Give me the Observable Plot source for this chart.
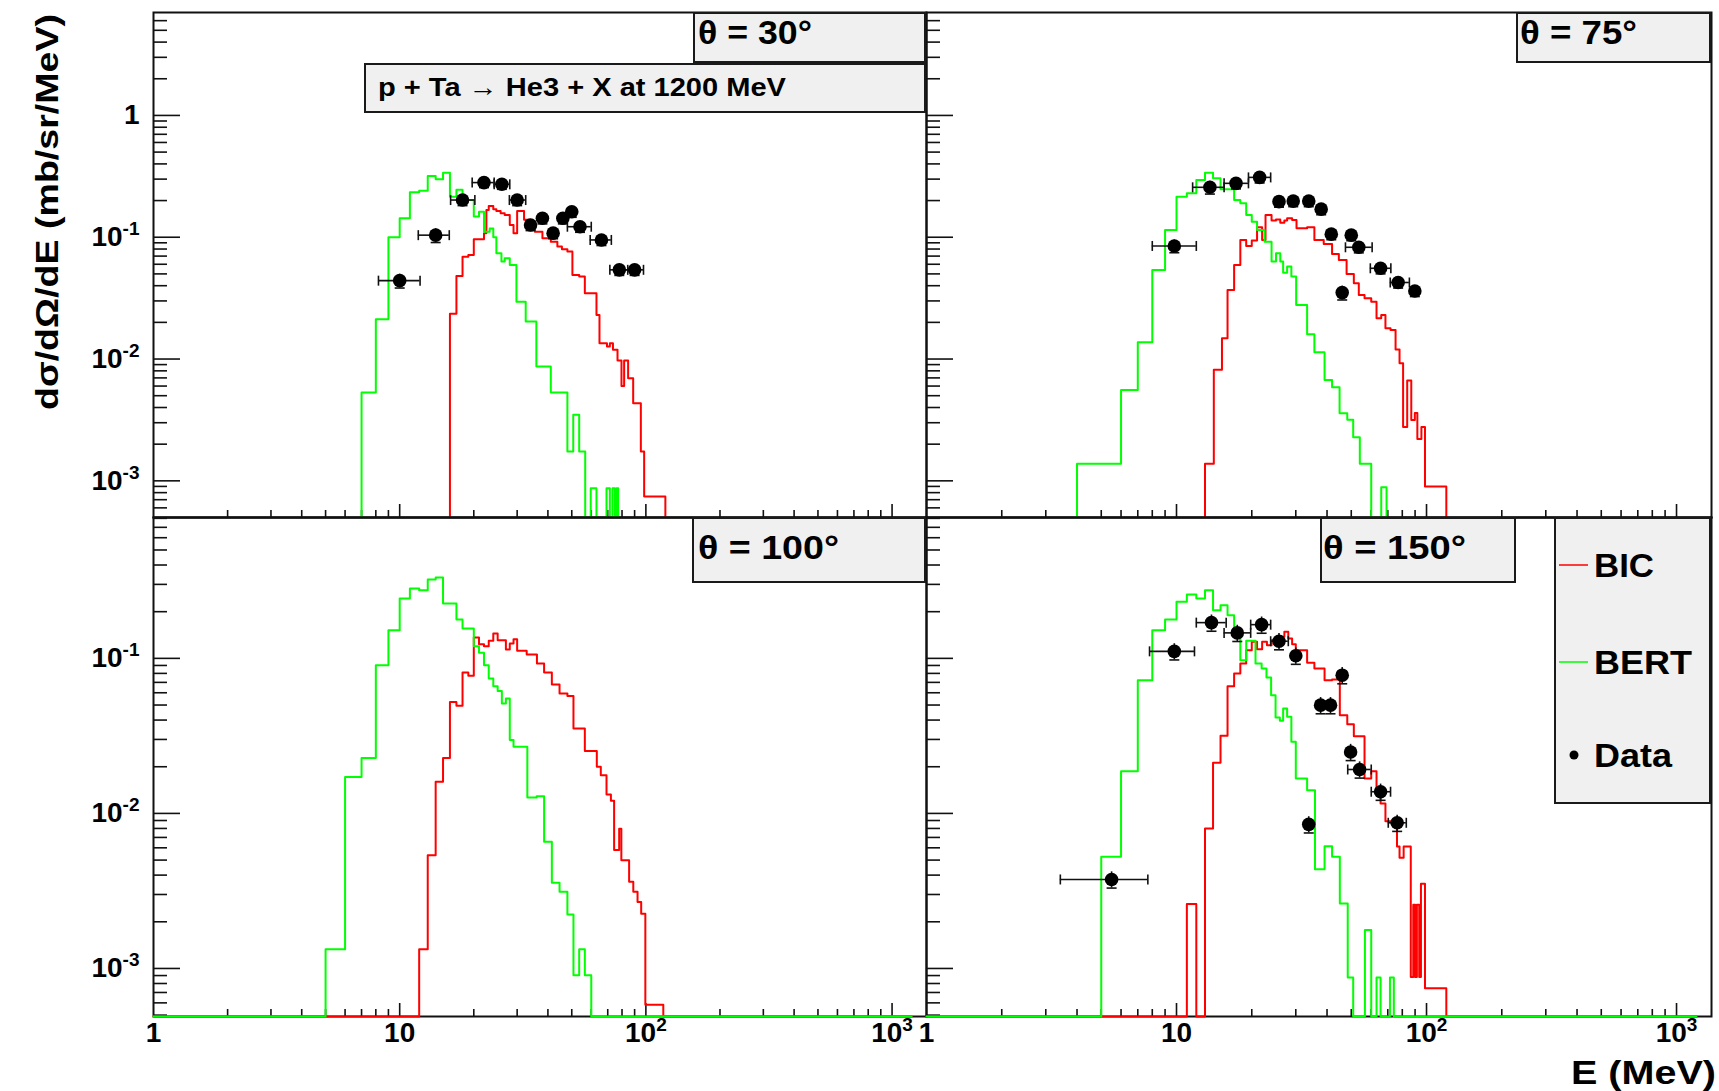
<!DOCTYPE html>
<html>
<head>
<meta charset="utf-8">
<script src="https://cdn.jsdelivr.net/npm/d3@7"></script>
<script src="https://cdn.jsdelivr.net/npm/@observablehq/plot@0.6"></script>
<style>
  html, body { margin: 0; padding: 0; background: #ffffff; }
  #chart { position: relative; width: 1719px; height: 1091px; overflow: hidden; background: #ffffff; }
  .box { position: absolute; box-sizing: border-box; background: #f0f0f0; border: 2px solid #1a1a1a; }
</style>
</head>
<body>
<div id="chart"></div>
<script>
// ================= DATA =================
// axis ranges
const xDomain = [1, 1380];
const histRange = [1, 1200];
const yDomainTop = [5e-4, 7];
const yDomainBottom = [4.9e-4, 0.81];

// tick values and labels
const xMajorTicks = [1, 10, 100, 1000];
const xMinorTicks = [2,3,4,5,6,7,8,9,20,30,40,50,60,70,80,90,200,300,400,500,600,700,800,900];
const xTickLabels = ["1", "10", "10^2", "10^3"];
const yMajorTicks = [0.001, 0.01, 0.1, 1];
const yMinorMantissas = [2,3,4,5,6,7,8,9];
const yMinorDecades = [1e-4, 1e-3, 1e-2, 1e-1, 1];
const yTickLabelsTop = ["10^-3", "10^-2", "10^-1", "1"];
const yTickLabelsBottom = ["10^-3", "10^-2", "10^-1"];

// ---- theta = 30 deg ----
const bic30Edges = [16,17,18,19,20,22,22.5,23,24,24.7,25.7,26.7,28,29,30,32,34,35.4,38,41.1,43.7,45.6,48,50.3,53.6,56.5,63,64.8,69.5,71.4,73.5,76.7,79.6,81.6,84.7,88.8,95.4,98.4,120];
const bic30Values = [0.0235,0.0481,0.0693,0.0716,0.0962,0.108,0.167,0.1805,0.1696,0.1643,0.1572,0.1524,0.126,0.1077,0.1643,0.139,0.121,0.111,0.098,0.092,0.0838,0.0796,0.0762,0.049,0.0475,0.0347,0.0230,0.0135,0.0127,0.0135,0.0119,0.00971,0.00602,0.00971,0.00696,0.00434,0.00174,0.000745];
const bert30Edges = [7,8,9,10,11,12,13,14,15,16,17,18,20,21,22,23.2,24,24.7,25.9,26.7,28,29.8,32.5,35.9,41.1,48,50.7,53.6,56.7,59.7,63,69.2,71.4,73.2,74.8,76,77.2];
const bert30Values = [0.0053,0.0212,0.100,0.143,0.234,0.241,0.318,0.299,0.339,0.215,0.245,0.202,0.148,0.162,0.111,0.118,0.0999,0.0738,0.0631,0.0672,0.0592,0.0296,0.0203,0.00868,0.00531,0.00174,0.00348,0.00174,0,0.00087,0,0.00087,0,0.00087,0,0.00087];
const data30E = [10,14,18,22,26,30,34,38,42,46,50,54,66,78,90];
const data30V = [0.044,0.104,0.202,0.281,0.272,0.202,0.126,0.143,0.108,0.143,0.162,0.122,0.095,0.054,0.054];
const data30ELo = [8.2,11.9,16.1,19.7,24.2,27.9,33,37,41,45,49,48,59.4,71.4,81];
const data30EHi = [12.1,15.9,20.2,24.2,28,32.5,35,39,43,47,51,60,72.4,84.4,97.8];
const data30Err = [0.13,0.13,0.1,0.09,0.09,0.1,0.1,0.1,0.1,0.1,0.1,0.1,0.1,0.1,0.1];

// ---- theta = 75 deg ----
const bic75Edges = [13,14.1,15.2,16,17,18,19,20,21,22,22.7,24,25,26,27,27.7,29,30.2,33.3,35.6,38.8,41.9,44.6,47.9,51.2,53.6,56.5,60.1,63.1,65.9,68.5,71.8,75.2,78,80.6,83.7,86.9,89.8,91.9,95.4,98.6,120];
const bic75Values = [0.00138,0.00815,0.01482,0.0369,0.0592,0.095,0.0848,0.0938,0.1207,0.095,0.1524,0.1369,0.14,0.1318,0.1369,0.143,0.1386,0.1184,0.1207,0.095,0.0881,0.0729,0.0651,0.05,0.0419,0.0336,0.0316,0.0296,0.0216,0.023,0.0179,0.0173,0.012,0.00924,0.00277,0.00667,0.00316,0.0036,0.00221,0.00277,0.0009];
const bert75Edges = [4,6,7,8,9,10,11,12,13,14,15,17,18,19,20,21,22.5,24,25,26,26.7,27.7,28.8,30.1,33.3,35.6,39.1,41.9,44.9,48.2,50.9,54.1,60.1,65.9,69.2];
const bert75Values = [0.00138,0.00558,0.01374,0.0539,0.1147,0.2154,0.2294,0.2951,0.3389,0.3045,0.2474,0.2022,0.19,0.1524,0.1343,0.1147,0.092,0.0631,0.0738,0.0631,0.0512,0.0574,0.0475,0.0278,0.016,0.01137,0.00674,0.00587,0.00359,0.00317,0.00228,0.00138,0,0.000887];
const data75E = [9.8,13.6,17.3,21.5,25.7,29.3,33.8,37.9,41.6,46,50,53.6,65.5,77,89.8];
const data75V = [0.0848,0.257,0.277,0.31,0.196,0.198,0.198,0.17,0.106,0.0351,0.104,0.0827,0.0556,0.0425,0.0362];
const data75ELo = [8,11.6,15.5,19.4,24.7,28.3,32.8,36.9,40.6,45,49,47.4,59.6,71.6,88.5];
const data75EHi = [12,15.5,19.4,23.8,26.7,30.3,34.8,38.9,42.6,47,51,60.6,72,85.4,91];
const data75Err = [0.12,0.12,0.1,0.1,0.1,0.1,0.1,0.1,0.1,0.13,0.1,0.1,0.1,0.1,0.1];

// ---- theta = 100 deg ----
const bic100Edges = [12,13,14,15,16,17,18,19,20,21,22,23,24,25,27,28,29,30,32.8,36.1,38.6,41.5,44.6,48,50.8,56.5,63.2,65.6,69.2,72.1,74.3,77.9,79.5,85.5,88.9,92.5,95.7,99.5,117.7];
const bic100Values = [0.00133,0.00538,0.016,0.0228,0.0524,0.0494,0.0811,0.0772,0.1363,0.1235,0.1199,0.1297,0.1447,0.131,0.1141,0.1247,0.133,0.1118,0.1059,0.0927,0.0811,0.0679,0.0594,0.0571,0.0353,0.0253,0.02,0.01765,0.01324,0.01206,0.0058,0.00796,0.00498,0.00362,0.00313,0.00268,0.00225,0.000583];
const bert100Edges = [5,6,7,8,9,10,11,12,13,14,15,17,18,20,21,22,23,24,25,26,27,28,29,33,36,38.6,41.5,44.6,48,50.8,53.6,56.5,60];
const bert100Values = [0.00133,0.0172,0.0228,0.0904,0.152,0.2433,0.2823,0.2754,0.3227,0.3324,0.226,0.1781,0.1558,0.1199,0.1086,0.0904,0.0742,0.0662,0.0617,0.0512,0.0551,0.0297,0.0269,0.01267,0.01292,0.00656,0.00357,0.00312,0.00223,0.000905,0.00133,0.000905];

// ---- theta = 150 deg ----
const bic150Edges = [11,12,13,14,15,16,17,18,19,20,21,22,23,24,25,26,27,28,29,30,33.3,35.6,39.1,41.9,45,48.2,51.2,56.5,60.1,63.1,65.5,68.5,71.8,76.2,78,81,86.5,88.5,90,91.5,93.5,95,98.6,120];
const bic150Values = [0.0026,0,0.008,0.0212,0.0317,0.0662,0.0799,0.0927,0.113,0.1278,0.1146,0.1278,0.1216,0.131,0.131,0.1377,0.1483,0.1343,0.1235,0.113,0.0936,0.086,0.0723,0.0731,0.043,0.0376,0.0315,0.0168,0.0187,0.014,0.0116,0.00889,0.00889,0.00611,0.00518,0.00611,0.00088,0.00258,0.00088,0.00258,0.00088,0.00352,0.000746];
const bert150Edges = [5,6,7,8,9,10,11,12,13,14,15,16,17,18,19,20.7,21.9,22.9,23.9,24.9,25.9,26.7,27.7,28.8,30,33.3,35.8,39.1,41.9,45,48.4,50.9,56.7,60.1,63.1,65.5,71.4,74];
const bert150Values = [0.00525,0.0187,0.0723,0.152,0.178,0.2315,0.2581,0.2433,0.2754,0.2046,0.2203,0.19,0.1447,0.0974,0.1297,0.0927,0.086,0.0753,0.0579,0.0416,0.0396,0.0475,0.042,0.029,0.0168,0.01413,0.00437,0.00615,0.00525,0.00262,0.000874,0,0.00177,0,0.000874,0,0.000874];
const data150E = [5.5,9.8,13.8,17.5,21.9,25.7,30,33.8,37.7,41.3,46,49.7,54,65.5,76.3];
const data150V = [0.00375,0.111,0.170,0.146,0.165,0.129,0.104,0.0085,0.0499,0.0499,0.0779,0.0249,0.0192,0.0138,0.0087];
const data150ELo = [3.43,7.8,12,15.5,19.8,23.8,29,33,36.7,40.3,45,48.7,48.4,60.1,70.3];
const data150EHi = [7.68,11.8,15.8,19.8,23.8,28,31,34.6,38.7,42.3,47,50.7,60.1,71.8,83];
const data150Err = [0.12,0.12,0.12,0.12,0.12,0.12,0.12,0.12,0.12,0.12,0.12,0.12,0.12,0.12,0.12];

// text
const panelTitles = ["θ = 30°", "θ = 75°", "θ = 100°", "θ = 150°"];
const reactionText = "p + Ta → He3 + X at 1200 MeV";
const legendLabels = ["BIC", "BERT", "Data"];
const colorBIC = "#ff0000";
const colorBERT = "#00ff00";
const yTitle = "dσ/dΩ/dE (mb/sr/MeV)";
const xTitle = "E (MeV)";

// ================= DRAWING =================
const FONT = "'Liberation Sans', Arial, Helvetica, sans-serif";
const INK = "#111111";
const chart = document.getElementById("chart");

function histPoints(edges, values, floor) {
  const pts = [{x: histRange[0], y: floor}];
  for (let i = 0; i < values.length; i++) pts.push({x: edges[i], y: values[i] > 0 ? values[i] : floor});
  pts.push({x: edges[edges.length - 1], y: floor});
  pts.push({x: histRange[1], y: floor});
  return pts;
}

const vBar = {draw(ctx, size) { const r = Math.sqrt(size / Math.PI); ctx.moveTo(0, -r); ctx.lineTo(0, r); }};
const hBar = {draw(ctx, size) { const r = Math.sqrt(size / Math.PI); ctx.moveTo(-r, 0); ctx.lineTo(r, 0); }};

function yMinorTicksFor(dom) {
  const out = [];
  for (const d of yMinorDecades) for (const m of yMinorMantissas) {
    const v = m * d;
    if (v > dom[0] * 1.001 && v < dom[1]) out.push(v);
  }
  return out;
}

function superscript(svg) {
  svg.querySelectorAll("text").forEach(t => {
    const s = t.textContent;
    if (s.includes("^")) {
      const [b, e] = s.split("^");
      t.textContent = "";
      const ns = "http://www.w3.org/2000/svg";
      const t1 = document.createElementNS(ns, "tspan"); t1.textContent = b; t.appendChild(t1);
      const t2 = document.createElementNS(ns, "tspan");
      t2.setAttribute("dy", "-11"); t2.setAttribute("font-size", "19"); t2.textContent = e;
      t.appendChild(t2);
    }
  });
}

function panel(cfg) {
  const {left, top, W, H, mL, mT, mR, mB, yDomain, bicE, bicV, bertE, bertV, data, yLabels, yLabelText, xLabels, showFloor} = cfg;
  // in the top row the empty bins lie under the shared border; put them below the frame and clip
  const floor = showFloor ? yDomain[0] : yDomain[0] / 10;
  const yMaj = yMajorTicks.filter(v => v > yDomain[0] && v < yDomain[1]);
  const marks = [
    Plot.frame({stroke: INK, strokeWidth: 2}),
    Plot.ruleX(xMajorTicks.slice(1), {x: d => d, insetTop: H - 13, stroke: INK, strokeWidth: 1.6}),
    Plot.ruleX(xMinorTicks, {x: d => d, insetTop: H - 7, stroke: INK, strokeWidth: 1.6}),
    Plot.ruleY(yMaj, {y: d => d, insetRight: W - 27, stroke: INK, strokeWidth: 1.6}),
    Plot.ruleY(yMinorTicksFor(yDomain), {y: d => d, insetRight: W - 14, stroke: INK, strokeWidth: 1.6}),
    Plot.line(histPoints(bicE, bicV, floor), {x: "x", y: "y", curve: "step-after", stroke: colorBIC, strokeWidth: 2, clip: !showFloor}),
    Plot.line(histPoints(bertE, bertV, floor), {x: "x", y: "y", curve: "step-after", stroke: colorBERT, strokeWidth: 2, clip: !showFloor})
  ];
  if (!showFloor) marks.push(Plot.frame({stroke: INK, strokeWidth: 2, anchor: "bottom"}));
  if (data) {
    const pts = data.E.map((e, i) => ({e, v: data.V[i], lo: data.lo[i], hi: data.hi[i],
      vlo: data.V[i] * (1 - data.err[i]), vhi: data.V[i] * (1 + data.err[i])}));
    marks.push(
      Plot.ruleY(pts, {y: "v", x1: "lo", x2: "hi", stroke: INK, strokeWidth: 1.6}),
      Plot.ruleX(pts, {x: "e", y1: "vlo", y2: "vhi", stroke: INK, strokeWidth: 1.6}),
      Plot.dot(pts, {x: "lo", y: "v", symbol: vBar, r: 5, fill: "none", stroke: INK, strokeWidth: 1.6}),
      Plot.dot(pts, {x: "hi", y: "v", symbol: vBar, r: 5, fill: "none", stroke: INK, strokeWidth: 1.6}),
      Plot.dot(pts, {x: "e", y: "vlo", symbol: hBar, r: 5, fill: "none", stroke: INK, strokeWidth: 1.6}),
      Plot.dot(pts, {x: "e", y: "v", r: 6.8, fill: "#000", stroke: "none"})
    );
  }
  if (yLabels) marks.push(Plot.text(yLabels, {y: d => d, text: (d, i) => yLabelText[i], frameAnchor: "left", dx: -14,
    textAnchor: "end", fontSize: 28, fontWeight: "bold", fill: "#000", fontFamily: FONT}));
  if (xLabels) marks.push(Plot.text(xMajorTicks, {x: d => d, text: (d, i) => xTickLabels[i], frameAnchor: "bottom", dy: 25,
    textAnchor: "middle", fontSize: 28, fontWeight: "bold", fill: "#000", fontFamily: FONT}));
  const svg = Plot.plot({
    width: mL + W + mR, height: mT + H + mB,
    marginLeft: mL, marginTop: mT, marginRight: mR, marginBottom: mB,
    x: {type: "log", domain: xDomain, axis: null},
    y: {type: "log", domain: yDomain, axis: null},
    style: {position: "absolute", left: left + "px", top: top + "px", overflow: "visible",
      background: "transparent", fontFamily: FONT, maxWidth: "none"},
    marks
  });
  superscript(svg);
  chart.appendChild(svg);
}

panel({left: 0, top: 0, W: 773, H: 505, mL: 153, mT: 12, mR: 0, mB: 0, yDomain: yDomainTop, showFloor: false,
  bicE: bic30Edges, bicV: bic30Values, bertE: bert30Edges, bertV: bert30Values,
  data: {E: data30E, V: data30V, lo: data30ELo, hi: data30EHi, err: data30Err},
  yLabels: [0.001, 0.01, 0.1, 1], yLabelText: yTickLabelsTop, xLabels: false});
panel({left: 926, top: 0, W: 785, H: 505, mL: 0, mT: 12, mR: 8, mB: 0, yDomain: yDomainTop, showFloor: false,
  bicE: bic75Edges, bicV: bic75Values, bertE: bert75Edges, bertV: bert75Values,
  data: {E: data75E, V: data75V, lo: data75ELo, hi: data75EHi, err: data75Err},
  yLabels: null, xLabels: false});
panel({left: 0, top: 517, W: 773, H: 499, mL: 153, mT: 0, mR: 0, mB: 75, yDomain: yDomainBottom, showFloor: true,
  bicE: bic100Edges, bicV: bic100Values, bertE: bert100Edges, bertV: bert100Values,
  data: null, yLabels: [0.001, 0.01, 0.1], yLabelText: yTickLabelsBottom, xLabels: true});
panel({left: 926, top: 517, W: 785, H: 499, mL: 0, mT: 0, mR: 8, mB: 75, yDomain: yDomainBottom, showFloor: true,
  bicE: bic150Edges, bicV: bic150Values, bertE: bert150Edges, bertV: bert150Values,
  data: {E: data150E, V: data150V, lo: data150ELo, hi: data150EHi, err: data150Err},
  yLabels: null, xLabels: true});

// boxes
const boxes = [
  {l: 693, t: 12, w: 233, h: 51},
  {l: 364, t: 63, w: 562, h: 50},
  {l: 1516, t: 12, w: 195, h: 51},
  {l: 692, t: 517, w: 234, h: 66},
  {l: 1320, t: 517, w: 196, h: 66},
  {l: 1554, t: 517, w: 157, h: 287}
];
boxes.forEach(b => {
  const d = document.createElement("div");
  d.className = "box";
  Object.assign(d.style, {left: b.l + "px", top: b.t + "px", width: b.w + "px", height: b.h + "px"});
  chart.appendChild(d);
});

// overlay text
const ov = d3.select(chart).append("svg")
  .attr("width", 1719).attr("height", 1091)
  .style("position", "absolute").style("left", "0px").style("top", "0px")
  .style("font-family", FONT).style("font-weight", "bold");

const titlePos = [
  {x: 698, y: 44, len: 114},
  {x: 1520, y: 44, len: 117},
  {x: 698, y: 559, len: 141},
  {x: 1323, y: 559, len: 143}
];
panelTitles.forEach((t, i) => {
  ov.append("text").attr("x", titlePos[i].x).attr("y", titlePos[i].y).attr("font-size", 34)
    .attr("textLength", titlePos[i].len).attr("lengthAdjust", "spacingAndGlyphs").text(t);
});
ov.append("text").attr("x", 378).attr("y", 96).attr("font-size", 26)
  .attr("textLength", 408).attr("lengthAdjust", "spacingAndGlyphs").text(reactionText);

// legend
const legY = [565, 662, 755];
ov.append("line").attr("x1", 1559).attr("x2", 1588).attr("y1", legY[0]).attr("y2", legY[0])
  .attr("stroke", colorBIC).attr("stroke-width", 1.5);
ov.append("line").attr("x1", 1559).attr("x2", 1588).attr("y1", legY[1]).attr("y2", legY[1])
  .attr("stroke", colorBERT).attr("stroke-width", 1.5);
ov.append("circle").attr("cx", 1574).attr("cy", legY[2]).attr("r", 4.5).attr("fill", "#000");
const legLen = [60, 98, 78];
legendLabels.forEach((t, i) => {
  ov.append("text").attr("x", 1594).attr("y", legY[i] + 12).attr("font-size", 34)
    .attr("textLength", legLen[i]).attr("lengthAdjust", "spacingAndGlyphs").text(t);
});

// axis titles
ov.append("text").attr("transform", "translate(58,212) rotate(-90)").attr("text-anchor", "middle")
  .attr("font-size", 32).attr("textLength", 396).attr("lengthAdjust", "spacingAndGlyphs").text(yTitle);
ov.append("text").attr("x", 1571).attr("y", 1084).attr("font-size", 33)
  .attr("textLength", 145).attr("lengthAdjust", "spacingAndGlyphs").text(xTitle);
</script>
</body>
</html>
